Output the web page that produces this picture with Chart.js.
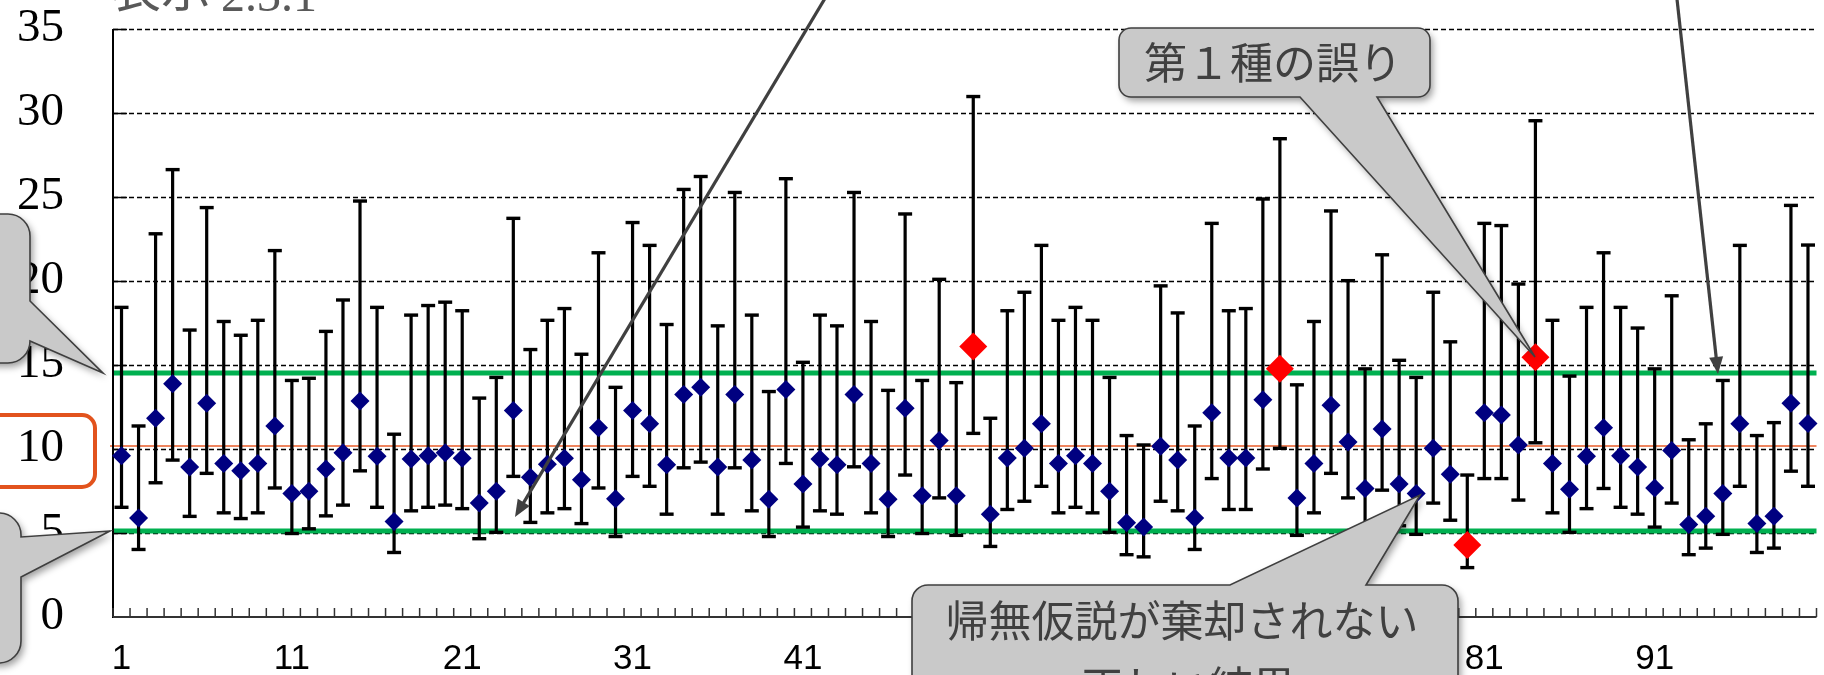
<!DOCTYPE html>
<html>
<head>
<meta charset="utf-8">
<script src="https://cdn.jsdelivr.net/npm/chart.js@4.4.1/dist/chart.umd.min.js"></script>
<style>
  html, body { margin: 0; padding: 0; background: #ffffff; overflow: hidden; }
  #wrap { position: relative; width: 1826px; height: 675px; }
  canvas { display: block; }
</style>
</head>
<body>
<div id="wrap"><canvas id="ci" width="1826" height="675"></canvas></div>
<script>
// Sample number of each simulated experiment
const sampleNo = [
  1, 2, 3, 4, 5, 6, 7, 8, 9, 10, 11, 12, 13, 14, 15, 16, 17, 18, 19, 20,
  21, 22, 23, 24, 25, 26, 27, 28, 29, 30, 31, 32, 33, 34, 35, 36, 37, 38, 39, 40,
  41, 42, 43, 44, 45, 46, 47, 48, 49, 50, 51, 52, 53, 54, 55, 56, 57, 58, 59, 60,
  61, 62, 63, 64, 65, 66, 67, 68, 69, 70, 71, 72, 73, 74, 75, 76, 77, 78, 79, 80,
  81, 82, 83, 84, 85, 86, 87, 88, 89, 90, 91, 92, 93, 94, 95, 96, 97, 98, 99, 100
];

// Point estimate of each sample
const sampleEstimate = [
  9.60, 5.89, 11.83, 13.88, 8.93, 12.72, 9.14, 8.70, 9.14, 11.37,
  7.35, 7.48, 8.81, 9.78, 12.85, 9.57, 5.68, 9.40, 9.60, 9.78,
  9.45, 6.78, 7.48, 12.29, 8.32, 9.09, 9.45, 8.17, 11.26, 7.04,
  12.29, 11.50, 9.06, 13.24, 13.67, 8.93, 13.24, 9.34, 7.01, 13.54,
  7.91, 9.40, 9.06, 13.24, 9.14, 7.01, 12.42, 7.22, 10.50, 7.22,
  16.10, 6.12, 9.47, 10.04, 11.50, 9.14, 9.60, 9.14, 7.48, 5.61,
  5.35, 10.16, 9.34, 5.89, 12.16, 9.47, 9.47, 12.93, 14.77, 7.09,
  9.14, 12.60, 10.42, 7.65, 11.19, 7.91, 7.35, 10.04, 8.50, 4.28,
  12.16, 12.03, 10.24, 15.46, 9.14, 7.60, 9.57, 11.26, 9.60, 8.93,
  7.68, 9.91, 5.50, 5.99, 7.35, 11.50, 5.56, 5.99, 12.72, 11.52
];

// Upper limit of each confidence interval
const ciUpper = [
  18.43, 11.37, 22.81, 26.63, 17.08, 24.37, 17.59, 16.77, 17.66, 21.81,
  14.08, 14.21, 17.00, 18.87, 24.76, 18.43, 10.88, 17.97, 18.54, 18.74,
  18.23, 13.03, 14.26, 23.73, 15.92, 17.66, 18.36, 15.64, 21.68, 13.67,
  23.48, 22.12, 17.41, 25.45, 26.22, 17.33, 25.27, 17.97, 13.42, 26.09,
  15.16, 17.97, 17.33, 25.27, 17.59, 13.49, 23.99, 14.08, 20.10, 13.95,
  30.98, 11.83, 18.23, 19.33, 22.12, 17.66, 18.43, 17.66, 14.26, 10.80,
  10.24, 19.71, 18.10, 11.37, 23.43, 18.23, 18.36, 24.88, 28.47, 13.82,
  17.59, 24.17, 20.02, 14.77, 21.56, 15.28, 14.26, 19.33, 16.38, 8.45,
  23.43, 23.30, 19.82, 29.54, 17.66, 14.34, 18.43, 21.68, 18.43, 17.20,
  14.77, 19.12, 10.55, 11.50, 14.08, 22.12, 10.80, 11.57, 24.50, 22.14
];

// Lower limit of each confidence interval
const ciLower = [
  6.53, 4.02, 7.99, 9.34, 5.99, 8.55, 6.20, 5.86, 6.20, 7.68,
  4.97, 5.25, 6.02, 6.66, 8.70, 6.53, 3.84, 6.32, 6.53, 6.66,
  6.45, 4.66, 5.04, 8.37, 5.63, 6.20, 6.45, 5.56, 7.68, 4.79,
  8.37, 7.78, 6.12, 8.88, 9.22, 6.12, 8.88, 6.32, 4.79, 9.14,
  5.35, 6.32, 6.12, 8.94, 6.20, 4.79, 8.45, 4.97, 7.09, 4.86,
  10.93, 4.20, 6.40, 6.89, 7.78, 6.20, 6.53, 6.20, 5.04, 3.71,
  3.58, 6.89, 6.32, 4.02, 8.24, 6.40, 6.40, 8.81, 10.04, 4.86,
  6.20, 8.55, 7.09, 5.12, 7.55, 5.43, 4.92, 6.78, 5.76, 2.94,
  8.24, 8.24, 6.96, 10.37, 6.20, 5.04, 6.45, 7.65, 6.53, 6.12,
  5.35, 6.78, 3.71, 4.10, 4.92, 7.78, 3.84, 4.10, 8.68, 7.78
];

// Axis tick labels
const yTickValues = [0, 5, 10, 15, 20, 25, 30, 35];
const xTickLabels = ['1', '11', '21', '31', '41', '51', '61', '71', '81', '91'];

// Reference value and acceptance limits
const trueValue = 10.18;
const limitHigh = 14.52;
const limitLow = 5.12;

// Annotation texts
const titleWord = '表示';
const titleNumber = '2.3.1';
const typeOneLabel = '第１種の誤り';
const correctLabel = ['帰無仮説が棄却されない', '正しい結果'];

const NAVY = '#000080';
const RED = '#FF0000';
const GREEN = '#00B050';
const ORANGE = '#E85D2A';
const BOX_ORANGE = '#E2531D';
const CALLOUT_FILL = '#C9C9C9';
const CALLOUT_LINE = '#3F3F3F';

const isRejected = v => v > limitHigh || v < limitLow;

function strokeLine(ctx, x0, y0, x1, y1) {
  ctx.beginPath();
  ctx.moveTo(x0, y0);
  ctx.lineTo(x1, y1);
  ctx.stroke();
}

// Rounded box with a wedge pointing out of one side
function calloutPath(ctx, b) {
  const { x, y, w, h, r, side, a, c, tip } = b;
  ctx.beginPath();
  ctx.moveTo(x + r, y);
  if (side === 'top') { ctx.lineTo(a, y); ctx.lineTo(tip[0], tip[1]); ctx.lineTo(c, y); }
  ctx.lineTo(x + w - r, y);
  ctx.arcTo(x + w, y, x + w, y + r, r);
  if (side === 'right') { ctx.lineTo(x + w, a); ctx.lineTo(tip[0], tip[1]); ctx.lineTo(x + w, c); }
  ctx.lineTo(x + w, y + h - r);
  ctx.arcTo(x + w, y + h, x + w - r, y + h, r);
  if (side === 'bottom') { ctx.lineTo(c, y + h); ctx.lineTo(tip[0], tip[1]); ctx.lineTo(a, y + h); }
  ctx.lineTo(x + r, y + h);
  ctx.arcTo(x, y + h, x, y + h - r, r);
  ctx.lineTo(x, y + r);
  ctx.arcTo(x, y, x + r, y, r);
  ctx.closePath();
}

function drawCallout(ctx, b) {
  ctx.save();
  ctx.shadowColor = 'rgba(0,0,0,0.38)';
  ctx.shadowBlur = 7;
  ctx.shadowOffsetX = 3;
  ctx.shadowOffsetY = 4;
  calloutPath(ctx, b);
  ctx.fillStyle = CALLOUT_FILL;
  ctx.fill();
  ctx.restore();
  ctx.save();
  calloutPath(ctx, b);
  ctx.strokeStyle = CALLOUT_LINE;
  ctx.lineWidth = 1.6;
  ctx.stroke();
  ctx.restore();
}

function drawArrow(ctx, x0, y0, x1, y1) {
  const ang = Math.atan2(y1 - y0, x1 - x0);
  const len = 17, half = 7;
  ctx.save();
  ctx.strokeStyle = '#404040';
  ctx.fillStyle = '#404040';
  ctx.lineWidth = 3.2;
  strokeLine(ctx, x0, y0, x1 - Math.cos(ang) * len * 0.8, y1 - Math.sin(ang) * len * 0.8);
  ctx.beginPath();
  ctx.moveTo(x1, y1);
  ctx.lineTo(x1 - Math.cos(ang) * len - Math.sin(ang) * half, y1 - Math.sin(ang) * len + Math.cos(ang) * half);
  ctx.lineTo(x1 - Math.cos(ang) * len + Math.sin(ang) * half, y1 - Math.sin(ang) * len - Math.cos(ang) * half);
  ctx.closePath();
  ctx.fill();
  ctx.restore();
}

const intervalPlugin = {
  id: 'intervalPlugin',
  beforeDatasetsDraw(chart) {
    const { ctx, chartArea: area, scales: { x, y } } = chart;
    ctx.save();

    // dashed horizontal grid
    ctx.strokeStyle = '#000';
    ctx.lineWidth = 1.4;
    ctx.setLineDash([5, 3]);
    yTickValues.forEach(v => {
      if (v === 0) return;
      const py = Math.round(y.getPixelForValue(v)) + 0.5;
      strokeLine(ctx, area.left, py, area.right, py);
    });
    ctx.setLineDash([]);

    // reference value
    ctx.strokeStyle = ORANGE;
    ctx.lineWidth = 1.5;
    const ry = y.getPixelForValue(trueValue);
    strokeLine(ctx, area.left - 3, ry, area.right, ry);

    // acceptance limits
    ctx.strokeStyle = GREEN;
    ctx.lineWidth = 5;
    [limitHigh, limitLow].forEach(v => {
      const py = y.getPixelForValue(v);
      strokeLine(ctx, area.left, py, area.right, py);
    });

    // confidence intervals
    ctx.strokeStyle = '#000';
    sampleEstimate.forEach((_, i) => {
      const px = x.getPixelForValue(i);
      const yt = y.getPixelForValue(ciUpper[i]);
      const yb = y.getPixelForValue(ciLower[i]);
      ctx.lineWidth = 3.2;
      strokeLine(ctx, px, yt, px, yb);
      ctx.lineWidth = 3.4;
      strokeLine(ctx, px - 7, yt, px + 7, yt);
      strokeLine(ctx, px - 7, yb, px + 7, yb);
    });

    // axes
    ctx.strokeStyle = '#000';
    ctx.lineWidth = 2;
    strokeLine(ctx, area.left, area.top, area.left, area.bottom + 1);
    ctx.strokeStyle = '#333';
    strokeLine(ctx, area.left, area.bottom, area.right, area.bottom);

    // inner tick marks
    ctx.lineWidth = 1.5;
    for (let k = 0; k <= sampleNo.length; k++) {
      const px = x.getPixelForValue(k - 0.5);
      strokeLine(ctx, px, area.bottom, px, area.bottom - 9);
    }
    ctx.strokeStyle = '#000';
    yTickValues.forEach(v => {
      if (v === 0) return;
      const py = Math.round(y.getPixelForValue(v)) + 0.5;
      strokeLine(ctx, area.left, py, area.left + 14, py);
    });
    ctx.restore();
  },
  afterDraw(chart) {
    const { ctx, scales: { y } } = chart;
    ctx.save();

    // title, mostly above the visible frame
    ctx.fillStyle = '#595959';
    ctx.textBaseline = 'ideographic';
    ctx.textAlign = 'left';
    ctx.font = "50px 'Noto Sans CJK JP'";
    ctx.fillText(titleWord, 111, 13);
    ctx.textBaseline = 'alphabetic';
    ctx.font = "48px 'Liberation Serif'";
    ctx.fillText(titleNumber, 221, 11);

    // box around the reference tick label
    const ty = y.getPixelForValue(10);
    ctx.strokeStyle = BOX_ORANGE;
    ctx.lineWidth = 4;
    ctx.beginPath();
    ctx.roundRect(-20, ty - 34, 115, 72, 13);
    ctx.stroke();

    // callouts
    drawCallout(ctx, { x: -60, y: 214, w: 90, h: 149, r: 22, side: 'right', a: 301, c: 341, tip: [103, y.getPixelForValue(limitHigh)] });
    drawCallout(ctx, { x: -60, y: 513, w: 81, h: 150, r: 22, side: 'right', a: 537, c: 577, tip: [110, y.getPixelForValue(limitLow)] });
    drawCallout(ctx, { x: 1119, y: 28, w: 311, h: 69, r: 12, side: 'bottom', a: 1300, c: 1377, tip: [1535, 357] });
    drawCallout(ctx, { x: 912, y: 585, w: 546, h: 160, r: 16, side: 'top', a: 1230, c: 1366, tip: [1420, 495] });

    ctx.fillStyle = '#404040';
    ctx.textAlign = 'center';
    ctx.textBaseline = 'middle';
    ctx.font = "43px 'Noto Sans CJK JP'";
    ctx.fillText(typeOneLabel, 1273, 63);
    ctx.fillText(correctLabel[0], 1182, 621);
    ctx.fillText(correctLabel[1], 1188, 687);

    // arrows coming from above
    drawArrow(ctx, 830, -10, 515, 517);
    drawArrow(ctx, 1676, -10, 1718, 374);
    ctx.restore();
  }
};

new Chart(document.getElementById('ci'), {
  type: 'line',
  data: {
    labels: sampleNo.map(String),
    datasets: [{
      data: sampleEstimate,
      showLine: false,
      pointStyle: 'rectRot',
      pointRadius: c => isRejected(c.raw) ? 14 : 9.5,
      pointHoverRadius: c => isRejected(c.raw) ? 14 : 9.5,
      pointBackgroundColor: c => isRejected(c.raw) ? RED : NAVY,
      pointBorderWidth: 0,
      pointBorderColor: 'rgba(0,0,0,0)'
    }]
  },
  options: {
    responsive: false,
    devicePixelRatio: 1,
    animation: false,
    events: [],
    layout: { padding: { top: 29, right: 1, left: 0, bottom: 0 } },
    plugins: { legend: { display: false }, tooltip: { enabled: false } },
    scales: {
      x: {
        type: 'category',
        offset: true,
        grid: { display: false },
        border: { display: false },
        afterFit: s => { s.height = 58; s.paddingLeft = 0; s.paddingRight = 0; },
        ticks: {
          autoSkip: false,
          maxRotation: 0,
          minRotation: 0,
          padding: 13,
          color: '#000',
          font: { family: "'Liberation Sans', Arial, sans-serif", size: 35, lineHeight: 1.2 },
          callback: function (val) {
            const lab = this.getLabelForValue(val);
            return xTickLabels.includes(lab) ? lab : '';
          }
        }
      },
      y: {
        min: 0,
        max: 35,
        grid: { display: false, drawTicks: false },
        border: { display: false },
        afterFit: s => { s.width = 113; s.paddingTop = 0; s.paddingBottom = 0; },
        afterBuildTicks: s => { s.ticks = yTickValues.map(v => ({ value: v })); },
        ticks: {
          padding: 49,
          color: '#000',
          font: { family: "'Liberation Serif', serif", size: 47, lineHeight: 1.2 }
        }
      }
    }
  },
  plugins: [intervalPlugin]
});
</script>
</body>
</html>
